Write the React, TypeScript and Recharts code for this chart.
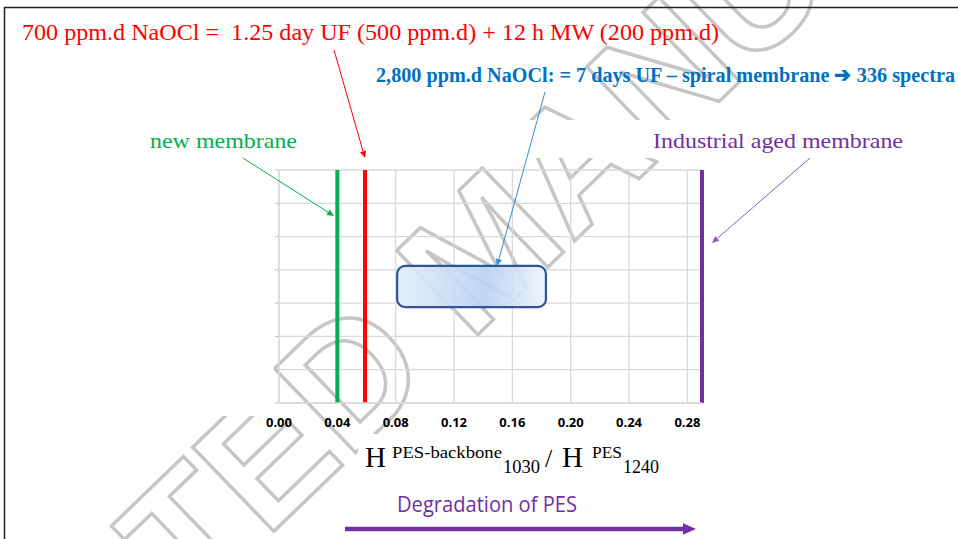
import React from 'react';
import {
  ComposedChart,
  CartesianGrid,
  XAxis,
  YAxis,
  ReferenceLine,
  ReferenceArea,
} from 'recharts';

// x-axis: H(PES-backbone, 1030) / H(PES, 1240)
const xTicks = [0, 0.04, 0.08, 0.12, 0.16, 0.2, 0.24, 0.28];
const xDomain = [0, 0.29];

// vertical markers
const markerNames = ['new membrane', '700 ppm.d NaOCl', 'Industrial aged membrane'];
const markerRatios = [0.04, 0.059, 0.29];

// spiral membrane 2,800 ppm.d spread (336 spectra)
const spiralRatioRange = [0.081, 0.183];
const spiralBand = [2.88, 4.12];

const leftTicks = [0, 1, 2, 3, 4, 5, 6, 7];
const rightTicks = [0, 1, 2, 3, 4, 5, 6];

const markerColors = ['#00B050', '#FF0000', '#7030A0'];
const gridColor = '#d9d9d9';

const noTick = () => <g />;

function SpiralBox(p: any) {
  return (
    <rect
      x={p.x}
      y={p.y}
      width={p.width}
      height={p.height}
      rx={8}
      ry={8}
      fill="url(#spiralFill)"
      fillOpacity={0.9}
      stroke="#2F5597"
      strokeWidth={2.2}
    />
  );
}

function Arrow(props: { x1: number; y1: number; x2: number; y2: number; color: string; w?: number; head?: number }) {
  const { x1, y1, x2, y2, color } = props;
  const w = props.w ?? 1;
  const head = props.head ?? 7;
  const ang = Math.atan2(y2 - y1, x2 - x1);
  const bx = x2 - head * Math.cos(ang);
  const by = y2 - head * Math.sin(ang);
  const hw = head * 0.45;
  const px = -Math.sin(ang) * hw;
  const py = Math.cos(ang) * hw;
  return (
    <g>
      <line x1={x1} y1={y1} x2={bx} y2={by} stroke={color} strokeWidth={w} />
      <polygon points={`${x2},${y2} ${bx + px},${by + py} ${bx - px},${by - py}`} fill={color} />
    </g>
  );
}

export default function App() {
  const chartData = markerRatios.map((r) => ({ ratio: r, level: 0 }));
  const serif = '"Liberation Serif", "Times New Roman", serif';

  return (
    <div style={{ position: 'absolute', left: 0, top: 0, width: 958, height: 539, background: '#fff', overflow: 'hidden' }}>
      {/* watermark */}
      <svg width={958} height={539} style={{ position: 'absolute', left: 0, top: 0 }}>
        <g transform="translate(524,290) rotate(-44)">
          <text
            x={0}
            y={0}
            textAnchor="middle"
            fontFamily='"Liberation Sans", Arial, sans-serif'
            fontWeight={700}
            fontSize={170}
            fill="none"
            stroke="#c6c6c6"
            strokeWidth={3.5}
          >
            ACCEPTED MANUSCRIPT
          </text>
        </g>
        <rect x={0} y={160} width={274} height={256} fill="#fff" />
        <rect x={380} y={120} width={310} height={38} fill="#fff" />
        <rect x={358} y={434} width={340} height={50} fill="#fff" />
      </svg>

      <div style={{ position: 'absolute', left: 0, top: 0 }}>
        <ComposedChart
          width={958}
          height={539}
          data={chartData}
          margin={{ top: 170, right: 248, bottom: 106, left: 271 }}
        >
          <defs>
            <linearGradient id="spiralFill" x1="0" y1="0" x2="1" y2="0">
              <stop offset="0%" stopColor="#e2ecf9" />
              <stop offset="60%" stopColor="#b7d1f2" />
              <stop offset="100%" stopColor="#eef4fc" />
            </linearGradient>
          </defs>
          <CartesianGrid stroke={gridColor} strokeWidth={1.3} yAxisId="left" />
          <XAxis
            dataKey="ratio"
            type="number"
            domain={xDomain}
            ticks={xTicks}
            allowDataOverflow
            tickFormatter={(v: number) => v.toFixed(2)}
            axisLine={{ stroke: gridColor, strokeWidth: 1.3 }}
            tickLine={false}
            tickMargin={9}
            height={30}
            tick={{ fontSize: 13, fontWeight: 700, fill: '#000', fontFamily: '"Open Sans", sans-serif' }}
          />
          <YAxis
            yAxisId="left"
            dataKey="level"
            type="number"
            domain={[0, 7]}
            ticks={leftTicks}
            width={8}
            tick={noTick}
            tickSize={4}
            tickLine={{ stroke: '#bfbfbf' }}
            axisLine={{ stroke: gridColor, strokeWidth: 1.3 }}
          />
          <YAxis
            yAxisId="right"
            orientation="right"
            type="number"
            domain={[0, 6]}
            ticks={rightTicks}
            width={8}
            tick={noTick}
            tickSize={4}
            tickLine={{ stroke: '#bfbfbf' }}
            axisLine={false}
          />
          <ReferenceArea
            yAxisId="left"
            x1={spiralRatioRange[0]}
            x2={spiralRatioRange[1]}
            y1={spiralBand[0]}
            y2={spiralBand[1]}
            shape={SpiralBox}
            ifOverflow="visible"
          />
          {markerRatios.map((r, i) => (
            <ReferenceLine
              key={markerNames[i]}
              yAxisId="left"
              x={r}
              stroke={markerColors[i]}
              strokeWidth={4}
              ifOverflow="visible"
            />
          ))}
        </ComposedChart>
      </div>

      {/* annotations */}
      <svg width={958} height={539} style={{ position: 'absolute', left: 0, top: 0, pointerEvents: 'none' }}>
        <line x1={4} y1={7.5} x2={958} y2={7.5} stroke="#222" strokeWidth={1.5} />
        <line x1={4.5} y1={7} x2={4.5} y2={539} stroke="#222" strokeWidth={1.5} />

        <text
          x={22}
          y={40}
          fontFamily={serif}
          fontSize={23}
          fill="#FF0000"
          textLength={697}
          lengthAdjust="spacingAndGlyphs"
          style={{ whiteSpace: 'pre' }}
        >
          {'700 ppm.d NaOCl =  1.25 day UF (500 ppm.d) + 12 h MW (200 ppm.d)'}
        </text>
        <text
          x={376}
          y={82}
          fontFamily={serif}
          fontSize={21}
          fontWeight={700}
          fill="#0070C0"
          textLength={579}
          lengthAdjust="spacingAndGlyphs"
        >
          2,800 ppm.d NaOCl: = 7 days UF – spiral membrane ➔ 336 spectra
        </text>
        <text x={150} y={148} fontFamily={serif} fontSize={22} fill="#00B050" textLength={147} lengthAdjust="spacingAndGlyphs">
          new membrane
        </text>
        <text x={653} y={148} fontFamily={serif} fontSize={22} fill="#7030A0" textLength={250} lengthAdjust="spacingAndGlyphs">
          Industrial aged membrane
        </text>

        <Arrow x1={334} y1={50} x2={365} y2={158} color="#FF0000" />
        <Arrow x1={545} y1={92} x2={497} y2={266} color="#2E8FD8" />
        <Arrow x1={243} y1={158} x2={334} y2={216} color="#00B050" />
        <Arrow x1={810} y1={158} x2={712} y2={243} color="#8E5CC0" />

        {/* axis title */}
        <g fontFamily={serif} fill="#000">
          <text x={365} y={467} fontSize={29}>H</text>
          <text x={392} y={458} fontSize={17} textLength={110} lengthAdjust="spacingAndGlyphs">PES-backbone</text>
          <text x={503} y={473} fontSize={18} textLength={37} lengthAdjust="spacingAndGlyphs">1030</text>
          <text x={545} y={467} fontSize={26}>/</text>
          <text x={562} y={467} fontSize={29}>H</text>
          <text x={592} y={458} fontSize={17} textLength={30} lengthAdjust="spacingAndGlyphs">PES</text>
          <text x={623} y={473} fontSize={18} textLength={36} lengthAdjust="spacingAndGlyphs">1240</text>
        </g>

        <text
          x={397}
          y={512}
          fontFamily='"Open Sans", sans-serif'
          fontSize={21}
          fill="#7030A0"
          textLength={180}
          lengthAdjust="spacingAndGlyphs"
        >
          Degradation of PES
        </text>
        <Arrow x1={345} y1={529} x2={696} y2={529} color="#7030A0" w={4.5} head={13} />
      </svg>
    </div>
  );
}
